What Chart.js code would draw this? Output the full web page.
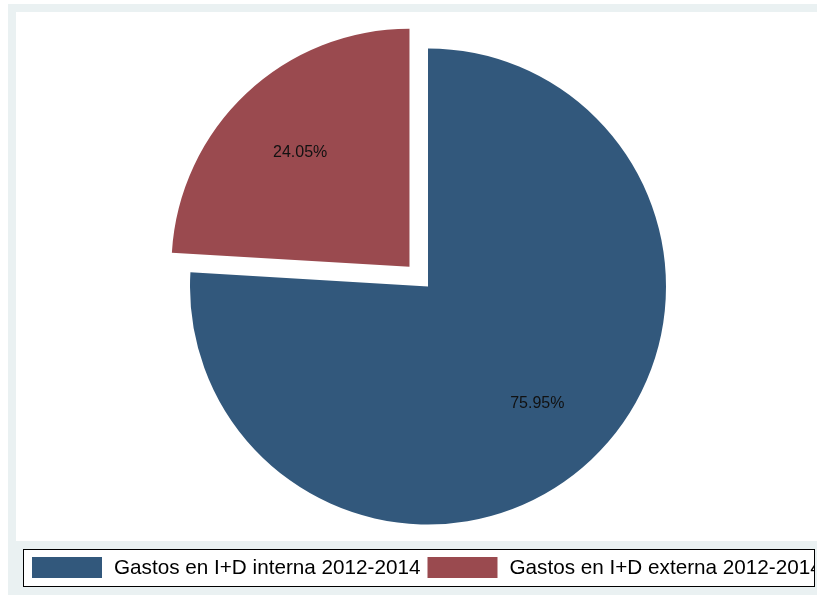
<!DOCTYPE html>
<html>
<head>
<meta charset="utf-8">
<script src="https://cdn.jsdelivr.net/npm/chart.js@4/dist/chart.umd.min.js"></script>
<style>
  html, body { margin: 0; padding: 0; background: #ffffff; }
  #wrap { width: 817px; height: 596px; position: relative; }
</style>
</head>
<body>
<div id="wrap"><canvas id="pie" width="817" height="596"></canvas></div>
<script>
// Shares of R&D spending, 2012-2014
const categories = ['Gastos en I+D interna 2012-2014', 'Gastos en I+D externa 2012-2014'];
const shares = [75.95, 24.05];
const sliceColors = ['#32587C', '#9A4A4F'];
// Only the external slice is pulled out of the pie
const explode = [0, 108];

const FONT = '"Liberation Sans", Arial, Helvetica, sans-serif';

// Stata-like frame: light outer region with a white plot region inside
const framePlugin = {
  id: 'frame',
  beforeDraw(chart) {
    const ctx = chart.ctx;
    ctx.save();
    ctx.fillStyle = '#ffffff';
    ctx.fillRect(0, 0, chart.width, chart.height);
    ctx.fillStyle = '#EAF1F2';
    ctx.fillRect(8, 4, chart.width - 8, 591);
    ctx.fillStyle = '#ffffff';
    ctx.fillRect(16, 12, chart.width - 16, 529);
    ctx.restore();
  }
};

// Percentage label inside every slice
const sliceLabels = {
  id: 'sliceLabels',
  afterDatasetsDraw(chart) {
    const ctx = chart.ctx;
    const meta = chart.getDatasetMeta(0);
    const data = chart.data.datasets[0].data;
    const total = data.reduce((a, b) => a + b, 0);
    ctx.save();
    ctx.font = '16px ' + FONT;
    ctx.fillStyle = '#111111';
    ctx.textAlign = 'center';
    ctx.textBaseline = 'middle';
    meta.data.forEach((arc, i) => {
      const p = arc.getProps(['x', 'y', 'startAngle', 'endAngle', 'outerRadius'], true);
      const mid = (p.startAngle + p.endAngle) / 2;
      const shift = (explode[i] || 0) / 4;
      const r = p.outerRadius * 0.67 + shift;
      const x = p.x + Math.cos(mid) * r;
      const y = p.y + Math.sin(mid) * r + 1.5;
      ctx.fillText((data[i] / total * 100).toFixed(2) + '%', x, y);
    });
    ctx.restore();
  }
};

// Boxed legend along the bottom
const boxLegend = {
  id: 'boxLegend',
  afterDraw(chart) {
    const ctx = chart.ctx;
    const box = { x: 23, y: 549, w: 791, h: 37 };
    ctx.save();
    ctx.fillStyle = '#ffffff';
    ctx.fillRect(box.x, box.y, box.w, box.h);
    ctx.beginPath();
    ctx.rect(box.x, box.y, box.w, box.h);
    ctx.clip();
    ctx.font = '20.7px ' + FONT;
    ctx.textBaseline = 'middle';
    ctx.fillStyle = '#000000';
    let x = 32;
    const ds = chart.data.datasets[0];
    chart.data.labels.forEach((label, i) => {
      ctx.fillStyle = ds.backgroundColor[i];
      ctx.fillRect(x, 557, 70, 21);
      x += 70 + 12;
      ctx.fillStyle = '#000000';
      ctx.fillText(label, x, 568);
      x += ctx.measureText(label).width + 7;
    });
    ctx.restore();
    ctx.save();
    ctx.strokeStyle = '#000000';
    ctx.lineWidth = 1;
    ctx.strokeRect(box.x + 0.5, box.y + 0.5, box.w, box.h);
    ctx.restore();
  }
};

new Chart(document.getElementById('pie'), {
  type: 'pie',
  data: {
    labels: categories,
    datasets: [{
      data: shares,
      backgroundColor: sliceColors,
      borderWidth: 0,
      offset: explode,
      radius: 238
    }]
  },
  options: {
    responsive: false,
    animation: false,
    layout: { padding: { left: 39, right: 0, top: 0, bottom: 23 } },
    plugins: {
      legend: { display: false },
      tooltip: { enabled: false }
    }
  },
  plugins: [framePlugin, sliceLabels, boxLegend]
});
</script>
</body>
</html>
